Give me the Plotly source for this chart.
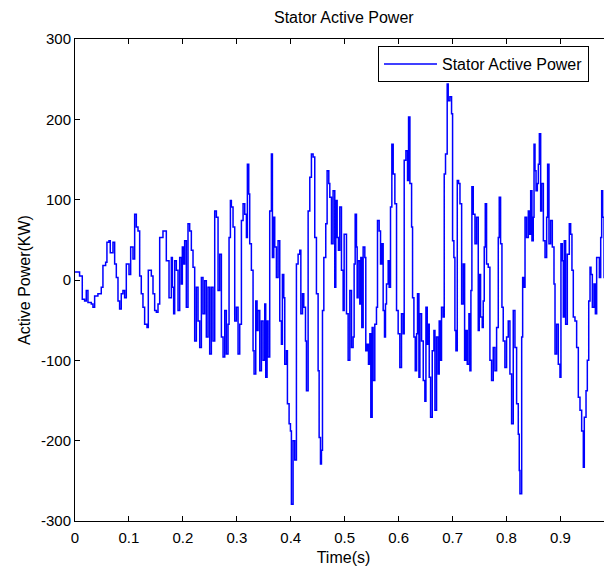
import plotly.graph_objects as go

# Time (s) and stator active power (kW)
time_s = [
    0.0000, 0.0085, 0.0135, 0.0178, 0.0209, 0.0240, 0.0302, 0.0333, 0.0364, 0.0425,
    0.0487, 0.0518, 0.0568, 0.0592, 0.0630, 0.0654, 0.0704, 0.0735, 0.0766, 0.0797,
    0.0827, 0.0858, 0.0889, 0.0920, 0.0951, 0.1001, 0.1032, 0.1075, 0.1106, 0.1137,
    0.1168, 0.1199, 0.1229, 0.1260, 0.1291, 0.1335, 0.1359, 0.1415, 0.1446, 0.1477,
    0.1508, 0.1539, 0.1570,
    0.1631, 0.1662, 0.1693, 0.1724, 0.1743, 0.1786, 0.1805, 0.1829, 0.1848, 0.1879,
    0.1910, 0.1941, 0.1972, 0.1990, 0.2015, 0.2033, 0.2064, 0.2095, 0.2126, 0.2157,
    0.2188, 0.2219, 0.2250, 0.2281, 0.2312, 0.2343, 0.2373, 0.2404, 0.2435, 0.2466,
    0.2497, 0.2528, 0.2559, 0.2590, 0.2621, 0.2652, 0.2683, 0.2714, 0.2745, 0.2776,
    0.2806, 0.2837, 0.2856, 0.2881, 0.2899, 0.2930, 0.2961, 0.2992, 0.3023, 0.3054,
    0.3085, 0.3116, 0.3147, 0.3178, 0.3196, 0.3221, 0.3239, 0.3270, 0.3301, 0.3320,
    0.3351, 0.3375, 0.3394, 0.3425, 0.3456, 0.3487, 0.3518, 0.3536, 0.3561, 0.3579,
    0.3610, 0.3641, 0.3660, 0.3685, 0.3703, 0.3734, 0.3765, 0.3796, 0.3827, 0.3845,
    0.3870, 0.3889, 0.3920, 0.3938, 0.3969, 0.3994, 0.4012, 0.4043, 0.4074, 0.4105,
    0.4136, 0.4167, 0.4187, 0.4218, 0.4241, 0.4273, 0.4291, 0.4322, 0.4353, 0.4383,
    0.4414, 0.4445, 0.4476, 0.4507, 0.4526, 0.4551, 0.4569, 0.4588, 0.4613, 0.4631,
    0.4649, 0.4674, 0.4705, 0.4724, 0.4755, 0.4785, 0.4816, 0.4835, 0.4860, 0.4884,
    0.4909, 0.4940, 0.4971, 0.4990,
    0.5033, 0.5064, 0.5095, 0.5126, 0.5156, 0.5175, 0.5194, 0.5218, 0.5231, 0.5249,
    0.5280, 0.5299, 0.5317, 0.5342, 0.5373, 0.5391, 0.5416, 0.5441, 0.5466, 0.5484,
    0.5509, 0.5527, 0.5558, 0.5589, 0.5608, 0.5639, 0.5664, 0.5688, 0.5713, 0.5738,
    0.5756, 0.5775, 0.5806, 0.5824, 0.5849, 0.5874, 0.5899, 0.5930, 0.5961, 0.5991,
    0.6022, 0.6053, 0.6084, 0.6103, 0.6135, 0.6165, 0.6184, 0.6209, 0.6240, 0.6258,
    0.6283, 0.6308, 0.6333, 0.6350, 0.6376, 0.6394, 0.6425, 0.6456, 0.6486, 0.6506,
    0.6530, 0.6549, 0.6567, 0.6592, 0.6623, 0.6654, 0.6673,
    0.6703, 0.6733, 0.6752, 0.6777, 0.6795, 0.6826, 0.6845, 0.6869, 0.6900, 0.6919,
    0.6950, 0.6981, 0.7000, 0.7024, 0.7043, 0.7062, 0.7087, 0.7112, 0.7137, 0.7168,
    0.7198, 0.7223, 0.7247, 0.7272, 0.7303, 0.7321, 0.7340, 0.7358, 0.7383, 0.7415,
    0.7445, 0.7476, 0.7494, 0.7519, 0.7550, 0.7568, 0.7587, 0.7606, 0.7630, 0.7661,
    0.7692, 0.7723, 0.7754, 0.7785, 0.7816, 0.7847, 0.7865, 0.7890, 0.7915, 0.7939,
    0.7970, 0.8001, 0.8032, 0.8063, 0.8094, 0.8125, 0.8156, 0.8187, 0.8218, 0.8236,
    0.8249, 0.8281, 0.8299, 0.8324, 0.8343,
    0.8372, 0.8404, 0.8423, 0.8448, 0.8471, 0.8496, 0.8510, 0.8528, 0.8547, 0.8571,
    0.8590, 0.8609, 0.8633, 0.8651, 0.8683, 0.8714, 0.8744, 0.8762, 0.8787, 0.8818,
    0.8849, 0.8880, 0.8899, 0.8929, 0.8960, 0.8991, 0.9009, 0.9034, 0.9053, 0.9071,
    0.9096, 0.9127, 0.9164, 0.9189, 0.9213, 0.9238, 0.9269, 0.9300, 0.9331, 0.9362,
    0.9393, 0.9424, 0.9442, 0.9474, 0.9498, 0.9524, 0.9548, 0.9566, 0.9591, 0.9622,
    0.9647, 0.9671, 0.9702, 0.9721, 0.9746, 0.9764, 0.9782, 0.9808, 0.9832, 0.9870,
    0.9894, 0.9919, 0.9944, 0.9960,
]

power_kw = [
    10, 5, -24, -26, -13, -28, -30, -34, -20, -17,
    -9, 18, 22, 47, 49, 34, 47, 20, 3, -26,
    -36, -17, -13, -22, 20, 7, 41, 26, 82, 66,
    61, 5, -17, -34, -55, -59, 12, 5, -17, -38,
    -40, -30, 53,
    61, 61, 24, 24, -22, 28, -9, -42, 24, 12,
    -38, 28, -5, 41, 20, 49, -34, 70, 61, 37,
    16, -76, -9, -51, -84, 3, -42, -1, -71, -9,
    -92, -9, -76, 86, 78, -13, 32, -71, -96, -38,
    -92, -55, 53, 99, 91, 66, -51, -34, -92, -55,
    74, 95, 82, 53, 144, 107, 45, 12, -88, -117,
    -26, -63, -38, -113, -51, -100, -30, -121, -51, -96,
    86, 157, 28, 78, 41, 3, 49, -51, -80, 7,
    -22, -105, -88, -154, -179, -188, -279, -200, -224, 20,
    32, 37, -42, -17, -34, -76, -138, 86, 128, 157,
    153, 53, -17, -113, -196, -229, -212, -38, 28, 28,
    70, 136, 120, 103, 45, 111, -9, 99, 53, 37,
    91, 12, -38, 57,
    -42, -100, -13, -84, -71, 20, 82, 41, -22, 24,
    -30, 28, -59, 41, 28, -88, -80, -105, -67, -171,
    -59, -125, -55, -34, 74, 61, 20, 45, -38, -71,
    -30, -5, 24, -9, 91, 169, 132, 95, -38, -67,
    -109, -42, -67, 149, 161, 124, 203, 120, 66, -22,
    -71, -113, -67, -17, -121, -42, -76, -125, -151, -34,
    -80, -55, -121, -171, -88, -63, -162,
    -71, -117, -51, -100, -34, -46, 132, 157, 244, 223,
    228, 207, 49, 28, -63, -88, 124, 120, 95, -30,
    20, -100, -63, -105, -42, -113, -13, 116, 82, 45,
    78, -63, 7, -46, -59, -26, 41, 95, 20, 16,
    -100, -125, -84, -113, -59, 53, 103, 45, -34, -76,
    -109, -71, -51, -117, -179, -38, -84, -154, -192, -237,
    -266, -71, 3, -9, 78,
    53, 86, 57, 111, 49, 78, 169, 136, 111, 120,
    144, 182, 86, 120, 49, 28, 78, 144, 45, 74,
    41, -5, -92, -55, -105, -121, 45, 24, -46, 49,
    -55, 32, 70, 57, 12, -46, -51, -84, -146, -162,
    -188, -233, -171, -138, -100, -26, 16, 7, -34, -5,
    -42, 28, 28, 3, 53, 111, 78, 3, -5, -71,
    -96, 74, 49, -95,
]

x_tick_vals = [0, 0.1, 0.2, 0.3, 0.4, 0.5, 0.6, 0.7, 0.8, 0.9]
x_tick_text = ["0", "0.1", "0.2", "0.3", "0.4", "0.5", "0.6", "0.7", "0.8", "0.9"]
y_tick_vals = [-300, -200, -100, 0, 100, 200, 300]
y_tick_text = ["-300", "-200", "-100", "0", "100", "200", "300"]

FONT = "Liberation Sans, Arial, sans-serif"
TICKFONT = dict(family=FONT, size=15, color="black")
TEXTFONT = dict(family=FONT, size=16, color="black")

# The page body adds an 8px offset; the figure is sized to fill the rest of the window.
OFF = 8
FIG_W, FIG_H = 612 - OFF, 574 - OFF
L = 75.4 - OFF
T = 39 - OFF
B = FIG_H - (521 - OFF)
PLOT_W = FIG_W - L

fig = go.Figure()
fig.add_trace(go.Scatter(
    x=time_s, y=power_kw, mode="lines", name="Stator Active Power",
    line=dict(color="#0000FF", width=1.5, shape="hv"),
))

fig.update_layout(
    width=FIG_W, height=FIG_H,
    margin=dict(l=L, r=0, t=T, b=B, autoexpand=False),
    paper_bgcolor="white", plot_bgcolor="white",
    font=TICKFONT,
    title=dict(text="Stator Active Power", x=(344 - OFF - L) / PLOT_W, xref="paper",
               xanchor="center", y=1 - (17 - OFF) / FIG_H, yref="container",
               yanchor="middle", font=TEXTFONT),
    showlegend=True,
    legend=dict(x=(589 - OFF - L) / PLOT_W, xanchor="right", y=1 - 7 / 482, yanchor="top",
                bgcolor="white", bordercolor="black", borderwidth=1,
                font=TEXTFONT, itemwidth=53),
    xaxis=dict(range=[0, (612 - 75.4) / 539], showgrid=False, zeroline=False,
               automargin=False,
               showline=True, linecolor="black", linewidth=1, mirror="ticks",
               ticks="inside", ticklen=5, tickcolor="black", ticklabelstandoff=3,
               tickvals=x_tick_vals, ticktext=x_tick_text, tickfont=TICKFONT,
               title=dict(text="Time(s)", standoff=6, font=TEXTFONT)),
    yaxis=dict(range=[-300, 300], showgrid=False, zeroline=False,
               automargin=False,
               showline=True, linecolor="black", linewidth=1, mirror="ticks",
               ticks="inside", ticklen=5, tickcolor="black",
               tickvals=y_tick_vals, ticktext=y_tick_text, tickfont=TICKFONT,
               title=dict(text="Active Power(KW)", standoff=6, font=TEXTFONT)),
)

fig.add_annotation(text="1", xref="paper", yref="paper", x=(614.5 - OFF - L) / PLOT_W,
                   y=0, yshift=-19, showarrow=False, xanchor="center", yanchor="middle",
                   font=TICKFONT)

fig.write_html("out.html")
